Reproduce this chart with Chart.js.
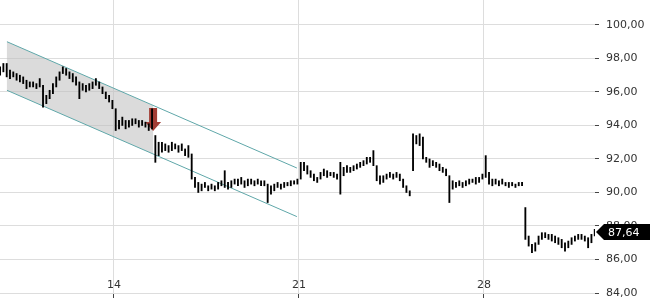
<!DOCTYPE html>
<html lang="de">
<head>
    <meta charset="UTF-8">
    <title>Kursverlauf</title>
    <script src="https://cdn.jsdelivr.net/npm/chart.js"></script>
    <style>
        html, body { margin: 0; padding: 0; background: #fff; }
        #wrap { width: 650px; height: 300px; position: relative; }
    </style>
</head>
<body>
<div id="wrap"><canvas id="kurs"></canvas></div>
<script>
// Zeitachse in Tagen, ein Hoch/Tief-Balken alle 0.125 Tage
const startDay = 9.69;
const step = 0.125;
const xTicks = [14, 21, 28];
const yTicks = [84, 86, 88, 90, 92, 94, 96, 98, 100];

// Tiefs und Hochs je Balken
const lows = [
    97.0, 97.2, 96.9, 96.8, 96.9, 96.7, 96.6, 96.5, 96.2, 96.3,
    96.3, 96.2, 96.3, 95.1, 95.3, 95.6, 95.9, 96.3, 96.7, 97.1,
    97.0, 96.8, 96.6, 96.4, 95.6, 96.1, 96.0, 96.1, 96.2, 96.4,
    96.2, 95.9, 95.6, 95.4, 95.0, 93.7, 93.8, 94.0, 93.8, 93.9,
    94.0, 94.1, 93.9, 94.0, 93.9, 93.7, 93.8, 91.8, 92.2, 92.4,
    92.5, 92.4, 92.5, 92.6, 92.4, 92.5, 92.2, 92.1, 90.8, 90.3,
    90.0, 90.1, 90.3, 90.1, 90.2, 90.1, 90.2, 90.4, 90.3, 90.2,
    90.3, 90.5, 90.4, 90.5, 90.3, 90.4, 90.5, 90.4, 90.5, 90.4,
    90.4, 89.4, 89.9, 90.1, 90.3, 90.2, 90.3, 90.4, 90.4, 90.5,
    90.5, 90.8, 91.3, 91.1, 90.9, 90.7, 90.6, 90.8, 91.0, 90.9,
    91.0, 90.9, 90.8, 89.9, 91.0, 91.2, 91.2, 91.3, 91.4, 91.5,
    91.6, 91.7, 91.8, 91.6, 90.7, 90.5, 90.6, 90.8, 90.9, 90.8,
    90.9, 90.7, 90.3, 90.0, 89.8, 91.3, 92.9, 92.8, 92.0, 91.8,
    91.5, 91.6, 91.5, 91.3, 91.2, 91.0, 89.4, 90.2, 90.3, 90.4,
    90.3, 90.4, 90.5, 90.6, 90.5, 90.6, 90.8, 90.9, 90.5, 90.4,
    90.5, 90.4, 90.5, 90.4, 90.3, 90.4, 90.3, 90.4, 90.4, 87.2,
    86.8, 86.4, 86.5, 86.9, 87.2, 87.3, 87.2, 87.1, 87.0, 86.9,
    86.7, 86.5, 86.7, 86.9, 87.1, 87.2, 87.2, 87.1, 86.7, 87.0, 87.4
];
const highs = [
    97.5, 97.7, 97.7, 97.3, 97.2, 97.1, 97.0, 96.9, 96.7, 96.6,
    96.6, 96.5, 96.8, 96.4, 95.8, 96.1, 96.5, 96.9, 97.2, 97.5,
    97.4, 97.2, 97.1, 96.9, 96.6, 96.5, 96.4, 96.5, 96.6, 96.8,
    96.6, 96.3, 96.0, 95.8, 95.5, 95.0, 94.3, 94.5, 94.3, 94.3,
    94.4, 94.4, 94.3, 94.3, 94.2, 94.1, 95.0, 93.4, 93.0, 93.0,
    92.9, 92.8, 93.0, 92.9, 92.8, 92.9, 92.6, 92.8, 92.3, 90.9,
    90.6, 90.5, 90.6, 90.4, 90.5, 90.4, 90.6, 90.7, 91.3, 90.6,
    90.7, 90.8, 90.8, 90.9, 90.7, 90.8, 90.8, 90.7, 90.8, 90.7,
    90.7, 90.5, 90.4, 90.5, 90.6, 90.5, 90.6, 90.6, 90.7, 90.7,
    90.8, 91.8, 91.8, 91.6, 91.3, 91.1, 90.9, 91.2, 91.4, 91.3,
    91.2, 91.2, 91.1, 91.8, 91.5, 91.6, 91.5, 91.6, 91.7, 91.8,
    91.9, 92.1, 92.1, 92.5, 91.6, 91.0, 91.0, 91.1, 91.2, 91.1,
    91.2, 91.1, 90.8, 90.4, 90.1, 93.5, 93.4, 93.5, 93.3, 92.1,
    92.0, 91.9, 91.8, 91.7, 91.5, 91.4, 91.0, 90.7, 90.6, 90.7,
    90.6, 90.7, 90.8, 90.8, 90.9, 90.9, 91.1, 92.2, 91.2, 90.8,
    90.8, 90.7, 90.8, 90.6, 90.6, 90.6, 90.5, 90.6, 90.6, 89.1,
    87.4, 86.9, 87.0, 87.4, 87.6, 87.6, 87.5, 87.5, 87.4, 87.3,
    87.2, 87.0, 87.1, 87.3, 87.4, 87.5, 87.5, 87.4, 87.3, 87.5, 87.8
];
const lastPrice = 87.64;

// Trendkanal
const channelX = [9.95, 20.92];
const channelUpper = [99.0, 91.46];
const channelLower = [96.1, 88.56];
const channelFillEnd = 15.48;

// Verkaufssignal (Pfeil)
const signal = { x: 15.48, top: 95.05, tip: 93.67 };

const fmt = v => v.toFixed(2).replace('.', ',');
const fontFamily = "'DejaVu Sans', sans-serif";

const bars = lows.map((lo, i) => ({ x: startDay + i * step, y: [lo, highs[i]] }));

const overlay = {
    id: 'overlay',
    beforeDatasetsDraw(chart) {
        const { ctx, scales: { x, y } } = chart;
        // graue Kanalfläche
        const x0 = x.getPixelForValue(channelX[0]);
        const x1 = x.getPixelForValue(channelX[1]);
        const xe = x.getPixelForValue(channelFillEnd);
        const t = (xe - x0) / (x1 - x0);
        const u0 = y.getPixelForValue(channelUpper[0]), u1 = y.getPixelForValue(channelUpper[1]);
        const l0 = y.getPixelForValue(channelLower[0]), l1 = y.getPixelForValue(channelLower[1]);
        ctx.save();
        ctx.fillStyle = 'rgba(190,190,190,0.55)';
        ctx.beginPath();
        ctx.moveTo(x0, u0);
        ctx.lineTo(xe, u0 + (u1 - u0) * t);
        ctx.lineTo(xe, l0 + (l1 - l0) * t);
        ctx.lineTo(x0, l0);
        ctx.closePath();
        ctx.fill();

        // Pfeil nach unten
        const ax = x.getPixelForValue(signal.x);
        const at = y.getPixelForValue(signal.top);
        const ap = y.getPixelForValue(signal.tip);
        const headH = 9;
        ctx.fillStyle = '#a23d35';
        ctx.beginPath();
        ctx.moveTo(ax - 4, at);
        ctx.lineTo(ax + 4, at);
        ctx.lineTo(ax + 4, ap - headH);
        ctx.lineTo(ax + 8, ap - headH);
        ctx.lineTo(ax, ap);
        ctx.lineTo(ax - 8, ap - headH);
        ctx.lineTo(ax - 4, ap - headH);
        ctx.closePath();
        ctx.fill();
        ctx.restore();
    },
    afterDraw(chart) {
        const { ctx, chartArea, scales: { x, y } } = chart;
        ctx.save();
        // X-Beschriftung innerhalb der Zeichenfläche
        ctx.font = '11px ' + fontFamily;
        ctx.fillStyle = '#333';
        ctx.textAlign = 'center';
        ctx.textBaseline = 'bottom';
        xTicks.forEach(v => ctx.fillText(String(v), x.getPixelForValue(v), chartArea.bottom - 2));

        // Kursmarke rechts
        const py = Math.round(y.getPixelForValue(lastPrice));
        const left = chartArea.right + 1;
        ctx.fillStyle = '#000';
        ctx.beginPath();
        ctx.moveTo(left, py);
        ctx.lineTo(left + 8, py - 8);
        ctx.lineTo(650, py - 8);
        ctx.lineTo(650, py + 8);
        ctx.lineTo(left + 8, py + 8);
        ctx.closePath();
        ctx.fill();
        ctx.fillStyle = '#fff';
        ctx.textAlign = 'left';
        ctx.textBaseline = 'middle';
        ctx.font = '11px ' + fontFamily;
        ctx.fillText(fmt(lastPrice), left + 12, py + 1);
        ctx.restore();
    }
};

const ctx = document.getElementById('kurs').getContext('2d');
new Chart(ctx, {
    type: 'bar',
    data: {
        datasets: [
            {
                type: 'line',
                data: [{ x: channelX[0], y: channelUpper[0] }, { x: channelX[1], y: channelUpper[1] }],
                borderColor: '#5fa7a9',
                borderWidth: 1,
                pointRadius: 0,
                order: 2
            },
            {
                type: 'line',
                data: [{ x: channelX[0], y: channelLower[0] }, { x: channelX[1], y: channelLower[1] }],
                borderColor: '#5fa7a9',
                borderWidth: 1,
                pointRadius: 0,
                order: 2
            },
            {
                data: bars,
                backgroundColor: '#000',
                barThickness: 1.2,
                grouped: false,
                order: 1
            }
        ]
    },
    options: {
        responsive: true,
        maintainAspectRatio: false,
        animation: false,
        layout: { padding: 0 },
        plugins: { legend: { display: false }, tooltip: { enabled: false } },
        scales: {
            x: {
                type: 'linear',
                min: 9.687,
                max: 32.2,
                offset: false,
                afterBuildTicks: s => { s.ticks = xTicks.map(v => ({ value: v })); },
                afterFit: s => { s.height = 7; s.paddingLeft = 0; s.paddingRight = 0; },
                grid: { color: '#dddddd', tickColor: '#444', tickLength: 5, offset: false },
                border: { display: false },
                ticks: { display: false }
            },
            y: {
                position: 'right',
                min: 84,
                max: 101.49,
                afterBuildTicks: s => { s.ticks = yTicks.map(v => ({ value: v })); },
                afterFit: s => { s.width = 55; s.paddingTop = 0; s.paddingBottom = 0; },
                grid: { color: '#dddddd', tickColor: '#444', tickLength: 4 },
                border: { display: false },
                ticks: {
                    padding: 7,
                    color: '#333',
                    font: { family: fontFamily, size: 11 },
                    callback: v => fmt(v)
                }
            }
        }
    },
    plugins: [overlay]
});
</script>
</body>
</html>
